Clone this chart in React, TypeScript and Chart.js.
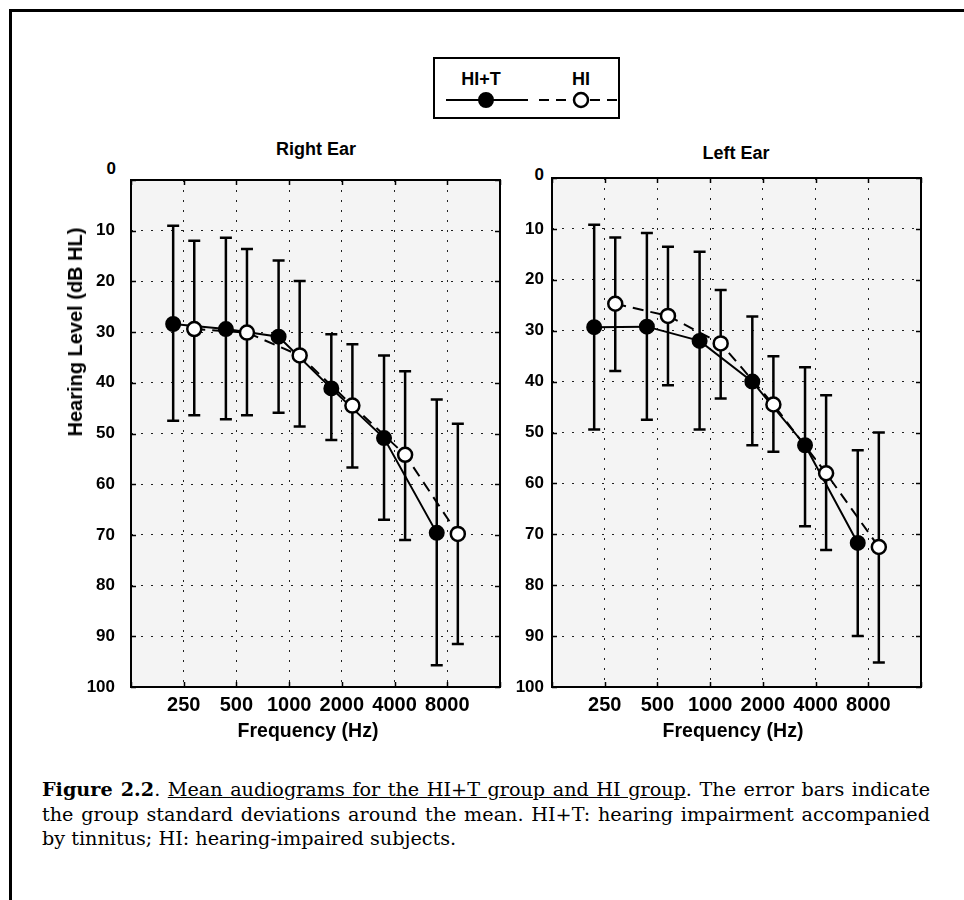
import React, { useEffect, useRef } from 'react';
import { Chart, registerables } from 'chart.js';

Chart.register(...registerables);

// ---------------- data ----------------
const freqLabels = ['250', '500', '1000', '2000', '4000', '8000'];
const yTickValues = [0, 10, 20, 30, 40, 50, 60, 70, 80, 90, 100];

// Right ear (dB HL): mean, top of error bar, bottom of error bar
const rightHIT_mean = [28.4, 29.4, 30.9, 41.1, 50.9, 69.6];
const rightHIT_top = [9.0, 11.4, 15.9, 30.4, 34.6, 43.3];
const rightHIT_bottom = [47.5, 47.2, 45.9, 51.3, 67.0, 95.7];
const rightHI_mean = [29.4, 30.1, 34.6, 44.5, 54.2, 69.8];
const rightHI_top = [12.0, 13.6, 19.9, 32.4, 37.7, 48.1];
const rightHI_bottom = [46.4, 46.4, 48.6, 56.7, 71.0, 91.5];

// Left ear
const leftHIT_mean = [29.3, 29.2, 32.0, 40.0, 52.5, 71.7];
const leftHIT_top = [9.2, 10.8, 14.5, 27.2, 37.2, 53.5];
const leftHIT_bottom = [49.4, 47.5, 49.4, 52.5, 68.4, 90.0];
const leftHI_mean = [24.7, 27.1, 32.5, 44.5, 58.0, 72.5];
const leftHI_top = [11.7, 13.5, 22.0, 35.0, 42.7, 50.0];
const leftHI_bottom = [37.9, 40.7, 43.3, 53.8, 73.1, 95.2];

const HIT_SHIFT = -0.2;
const HI_SHIFT = 0.2;

const SANS = '"Liberation Sans", Arial, Helvetica, sans-serif';
const SERIF = '"DejaVu Serif", "Liberation Serif", serif';

// ---------------- plugin ----------------
const audioPlugin = {
  id: 'audioDecor',
  beforeDraw(chart: any) {
    const { ctx, chartArea: a } = chart;
    ctx.save();
    ctx.fillStyle = '#f4f4f4';
    ctx.fillRect(a.left, a.top, a.right - a.left, a.bottom - a.top);
    ctx.restore();
  },
  beforeDatasetsDraw(chart: any) {
    const { ctx, chartArea: a, scales } = chart;
    const xs = scales.x;
    const ys = scales.y;
    ctx.save();
    ctx.strokeStyle = '#000';
    ctx.setLineDash([]);
    // inward tick marks on all four sides
    ctx.lineWidth = 1.5;
    xs.ticks.forEach((t: any) => {
      const px = Math.round(xs.getPixelForValue(t.value)) + 0.5;
      ctx.beginPath();
      ctx.moveTo(px, a.top);
      ctx.lineTo(px, a.top + 5);
      ctx.moveTo(px, a.bottom);
      ctx.lineTo(px, a.bottom - 5);
      ctx.stroke();
    });
    ys.ticks.forEach((t: any) => {
      const py = Math.round(ys.getPixelForValue(t.value)) + 0.5;
      ctx.beginPath();
      ctx.moveTo(a.left, py);
      ctx.lineTo(a.left + 5, py);
      ctx.moveTo(a.right, py);
      ctx.lineTo(a.right - 5, py);
      ctx.stroke();
    });
    // plot frame
    ctx.lineWidth = 2;
    ctx.strokeRect(a.left, a.top, a.right - a.left, a.bottom - a.top);
    // error bars
    chart.data.datasets.forEach((ds: any) => {
      if (!ds.errTop) return;
      ds.data.forEach((p: any, i: number) => {
        const px = xs.getPixelForValue(p.x);
        const y1 = ys.getPixelForValue(ds.errTop[i]);
        const y2 = ys.getPixelForValue(ds.errBottom[i]);
        ctx.lineWidth = 2.5;
        ctx.beginPath();
        ctx.moveTo(px, y1);
        ctx.lineTo(px, y2);
        ctx.moveTo(px - 6, y1);
        ctx.lineTo(px + 6, y1);
        ctx.moveTo(px - 6, y2);
        ctx.lineTo(px + 6, y2);
        ctx.stroke();
      });
    });
    ctx.restore();
  },
};

type EarProps = {
  hitMean: number[];
  hitTop: number[];
  hitBottom: number[];
  hiMean: number[];
  hiTop: number[];
  hiBottom: number[];
  left: number;
  top: number;
  width: number;
  height: number;
  yAxisWidth: number;
  xAxisHeight: number;
  padTop: number;
  padRight: number;
  yTickPad: number;
};

function toPoints(mean: number[], shift: number) {
  return mean.map((m, i) => ({ x: i + 1 + shift, y: m }));
}

function EarChart(props: EarProps) {
  const ref = useRef<HTMLCanvasElement | null>(null);
  useEffect(() => {
    if (!ref.current) return;
    const chart = new Chart(ref.current, {
      type: 'line',
      data: {
        datasets: [
          {
            label: 'HI+T line',
            data: toPoints(props.hitMean, HIT_SHIFT),
            borderColor: '#000',
            borderWidth: 2,
            pointRadius: 0,
            fill: false,
            order: 3,
          },
          {
            label: 'HI line',
            data: toPoints(props.hiMean, HI_SHIFT),
            borderColor: '#000',
            borderWidth: 2,
            borderDash: [11, 7],
            pointRadius: 0,
            fill: false,
            order: 2,
          },
          {
            label: 'HI+T',
            data: toPoints(props.hitMean, HIT_SHIFT),
            showLine: false,
            pointRadius: 7,
            pointBackgroundColor: '#000',
            pointBorderColor: '#000',
            pointBorderWidth: 2,
            order: 1,
            errTop: props.hitTop,
            errBottom: props.hitBottom,
          } as any,
          {
            label: 'HI',
            data: toPoints(props.hiMean, HI_SHIFT),
            showLine: false,
            pointRadius: 7,
            pointBackgroundColor: '#ffffff',
            pointBorderColor: '#000',
            pointBorderWidth: 2.5,
            order: 0,
            errTop: props.hiTop,
            errBottom: props.hiBottom,
          } as any,
        ],
      },
      options: {
        responsive: false,
        animation: false,
        events: [],
        layout: { padding: { left: 0, top: props.padTop, right: props.padRight, bottom: 0 } },
        plugins: { legend: { display: false }, tooltip: { enabled: false }, title: { display: false } },
        scales: {
          x: {
            type: 'linear',
            min: 0,
            max: 7,
            afterBuildTicks: (s: any) => {
              s.ticks = [0, 1, 2, 3, 4, 5, 6, 7].map((v) => ({ value: v }));
            },
            afterFit: (s: any) => {
              s.height = props.xAxisHeight;
            },
            ticks: {
              autoSkip: false,
              maxRotation: 0,
              minRotation: 0,
              padding: 6,
              color: '#000',
              font: { family: SANS, size: 20, weight: 'bold' },
              callback: (v: any) => freqLabels[Number(v) - 1] ?? '',
            },
            grid: { color: '#222', lineWidth: 1, drawTicks: false },
            border: { display: false, dash: [2, 8] },
          },
          y: {
            type: 'linear',
            reverse: true,
            min: 0,
            max: 100,
            afterBuildTicks: (s: any) => {
              s.ticks = yTickValues.map((v) => ({ value: v }));
            },
            afterFit: (s: any) => {
              s.width = props.yAxisWidth;
            },
            ticks: {
              autoSkip: false,
              padding: props.yTickPad,
              color: '#000',
              font: { family: SANS, size: 17, weight: 'bold' },
              callback: (v: any) => (Number(v) === 0 ? '' : String(v)),
            },
            grid: { color: '#222', lineWidth: 1, drawTicks: false },
            border: { display: false, dash: [2, 8] },
          },
        },
      } as any,
      plugins: [audioPlugin],
    });
    return () => chart.destroy();
  }, []);
  return (
    <canvas
      ref={ref}
      width={props.width}
      height={props.height}
      style={{ position: 'absolute', left: props.left, top: props.top, width: props.width, height: props.height }}
    />
  );
}

function Label(p: { x: number; y: number; text: string; size: number; bold?: boolean; anchor?: 'center' | 'right'; rotate?: boolean }) {
  const tx = p.anchor === 'right' ? '-100%' : '-50%';
  return (
    <div
      style={{
        position: 'absolute',
        left: p.x,
        top: p.y,
        transform: `translate(${tx}, -50%)${p.rotate ? ' rotate(-90deg)' : ''}`,
        fontFamily: SANS,
        fontSize: p.size,
        fontWeight: p.bold ? 'bold' : 'normal',
        lineHeight: 1,
        whiteSpace: 'nowrap',
        color: '#000',
      }}
    >
      {p.text}
    </div>
  );
}

export default function App() {
  return (
    <div style={{ position: 'absolute', left: 0, top: 0, width: 964, height: 900, overflow: 'hidden', background: '#fff' }}>
      {/* outer frame */}
      <div style={{ position: 'absolute', left: 9, top: 9, width: 1000, height: 1000, borderLeft: '3px solid #000', borderTop: '3px solid #000' }} />

      {/* legend */}
      <div style={{ position: 'absolute', left: 433, top: 57, width: 187, height: 62, border: '2px solid #000', boxSizing: 'border-box' }} />
      <Label x={481} y={79} text="HI+T" size={18} bold />
      <Label x={581} y={79} text="HI" size={18} bold />
      <svg style={{ position: 'absolute', left: 433, top: 57 }} width={190} height={62}>
        <line x1={13} y1={43} x2={95} y2={43} stroke="#000" strokeWidth={2} />
        <circle cx={53} cy={43} r={7} fill="#000" stroke="#000" strokeWidth={2} />
        <line x1={106} y1={43} x2={186} y2={43} stroke="#000" strokeWidth={2} strokeDasharray="10 7" />
        <circle cx={148} cy={43} r={7} fill="#fff" stroke="#000" strokeWidth={2.5} />
      </svg>

      {/* Right ear */}
      <Label x={316} y={149} text="Right Ear" size={18} bold />
      <Label x={116} y={168} text="0" size={17} bold anchor="right" />
      <EarChart
        hitMean={rightHIT_mean}
        hitTop={rightHIT_top}
        hitBottom={rightHIT_bottom}
        hiMean={rightHI_mean}
        hiTop={rightHI_top}
        hiBottom={rightHI_bottom}
        left={20}
        top={130}
        width={495}
        height={630}
        yAxisWidth={111}
        xAxisHeight={73}
        padTop={50}
        padRight={15}
        yTickPad={16}
      />
      <Label x={308} y={731} text="Frequency (Hz)" size={19.5} bold />
      <Label x={75} y={332} text="Hearing Level (dB HL)" size={20} bold rotate />

      {/* Left ear */}
      <Label x={736} y={153} text="Left Ear" size={18} bold />
      <Label x={544} y={174} text="0" size={17} bold anchor="right" />
      <EarChart
        hitMean={leftHIT_mean}
        hitTop={leftHIT_top}
        hitBottom={leftHIT_bottom}
        hiMean={leftHI_mean}
        hiTop={leftHI_top}
        hiBottom={leftHI_bottom}
        left={505}
        top={128}
        width={435}
        height={632}
        yAxisWidth={47}
        xAxisHeight={73}
        padTop={50}
        padRight={19}
        yTickPad={8}
      />
      <Label x={733} y={731} text="Frequency (Hz)" size={19.5} bold />

      {/* caption */}
      <div style={{ position: 'absolute', left: 42, top: 778, width: 888, fontFamily: SERIF, fontSize: 19.2, lineHeight: '24.5px', color: '#000' }}>
        <div style={{ textAlign: 'justify', textAlignLast: 'justify', whiteSpace: 'nowrap' } as any}>
          <b>Figure 2.2</b>. <span style={{ textDecoration: 'underline' }}>Mean audiograms for the HI+T group and HI group</span>. The error bars indicate
        </div>
        <div style={{ textAlign: 'justify', textAlignLast: 'justify', whiteSpace: 'nowrap' } as any}>
          the group standard deviations around the mean. HI+T: hearing impairment accompanied
        </div>
        <div style={{ textAlign: 'left', whiteSpace: 'nowrap' }}>by tinnitus; HI: hearing-impaired subjects.</div>
      </div>
    </div>
  );
}
